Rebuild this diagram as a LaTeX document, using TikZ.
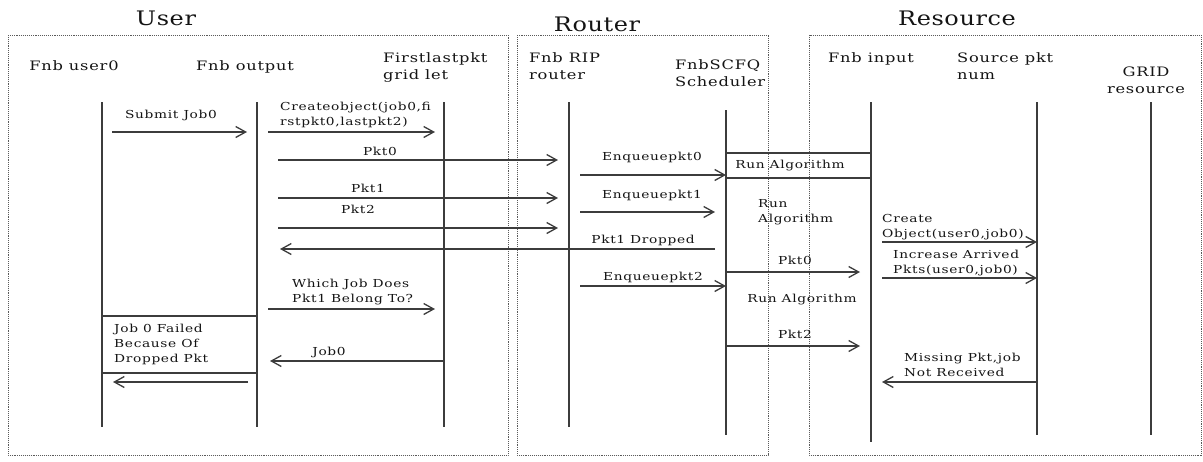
\documentclass[tikz,border=0pt]{standalone}
\usepackage{fontspec}
\setmainfont{DejaVu Serif}[FakeStretch=1.25, LetterSpace=6]
\newfontfamily\ttlfont{DejaVu Serif}[FakeStretch=1.2, LetterSpace=3]
\usetikzlibrary{arrows.meta, positioning}
\definecolor{lineclr}{HTML}{3C3C3C}
\definecolor{txtclr}{HTML}{141414}
\definecolor{boxclr}{HTML}{5A5A5A}
\tikzset{
  grouptitle/.style={
    font=\ttlfont\fontsize{20}{24}\selectfont,
    text=txtclr,
    inner sep=0pt
  },
  headlbl/.style={
    font=\fontsize{13}{17}\selectfont,
    text=txtclr,
    align=left,
    inner sep=0pt
  },
  msglbl/.style={
    font=\fontsize{11}{15}\selectfont,
    text=txtclr,
    align=left,
    inner sep=0pt
  },
  groupbox/.style={
    draw=boxclr,
    densely dotted,
    line width=0.9pt
  },
  lifeline/.style={
    draw=lineclr,
    line width=1.8pt
  },
  actbox/.style={
    draw=lineclr,
    line width=1.3pt
  },
  msg/.style={
    draw=lineclr,
    line width=1.3pt,
    -{Straight Barb[length=10pt, width=11pt]}
  }
}

\begin{document}
\begin{tikzpicture}[x=1pt, y=-1pt]

  \useasboundingbox (0,0) rectangle (1203,461);

  % ==================== GROUPS ====================
  \draw [groupbox] (8,35) rectangle (508,455);
  \draw [groupbox] (517,35) rectangle (768,455);
  \draw [groupbox] (809,35) rectangle (1201,455);

  \node (tuser) [grouptitle, anchor=base] at (166,25) {User};
  \node (trouter) [grouptitle, anchor=base] at (597,31) {Router};
  \node (tres) [grouptitle, anchor=base] at (957,25) {Resource};

  % ==================== HEADERS ====================
  % (base of a two-line node = its last line)
  \node (huser0) [headlbl, anchor=base] at (74,70) {Fnb user0};
  \node (houtput) [headlbl, anchor=base] at (245,70) {Fnb output};
  \node (hflpkt) [headlbl, anchor=base west] at (383,79) {Firstlastpkt\\grid let};
  \node (hrip) [headlbl, anchor=base west] at (529,79) {Fnb RIP\\router};
  \node (hscfq) [headlbl, anchor=base west] at (675,86) {FnbSCFQ\\Scheduler};
  \node (hinput) [headlbl, anchor=base west] at (828,62) {Fnb input};
  \node (hsrc) [headlbl, anchor=base west] at (957,79) {Source pkt\\num};
  \node (hgrid) [headlbl, anchor=base, align=center] at (1146,93) {GRID\\resource};

  % ==================== LIFELINES ====================
  \coordinate (user0) at (102,102);  \coordinate (user0-end) at (102,427);
  \coordinate (output) at (257,102); \coordinate (output-end) at (257,427);
  \coordinate (flpkt) at (444,102);  \coordinate (flpkt-end) at (444,427);
  \coordinate (rip) at (569,102);    \coordinate (rip-end) at (569,427);
  \coordinate (scfq) at (726,110);   \coordinate (scfq-end) at (726,435);
  \coordinate (input) at (871,102);  \coordinate (input-end) at (871,442);
  \coordinate (srcpkt) at (1037,102); \coordinate (srcpkt-end) at (1037,435);
  \coordinate (grid) at (1151,102);  \coordinate (grid-end) at (1151,435);

  \draw [lifeline] (user0) -- (user0-end);
  \draw [lifeline] (output) -- (output-end);
  \draw [lifeline] (flpkt) -- (flpkt-end);
  \draw [lifeline] (rip) -- (rip-end);
  \draw [lifeline] (scfq) -- (scfq-end);
  \draw [lifeline] (input) -- (input-end);
  \draw [lifeline] (srcpkt) -- (srcpkt-end);
  \draw [lifeline] (grid) -- (grid-end);

  % ==================== ACTIVITY BOXES ====================
  \draw [actbox] (scfq |- 0,153) rectangle (input |- 0,178);
  \node (run1) [msglbl, anchor=base] at (790,168) {Run Algorithm};
  \node (run2) [msglbl, anchor=base west] at (758,222) {Run\\Algorithm};
  \node (run3) [msglbl, anchor=base] at (802,302) {Run Algorithm};

  \draw [actbox] (user0 |- 0,316) rectangle (output |- 0,373);
  \node (failed) [msglbl, anchor=base west] at (114,362) {Job 0 Failed\\Because Of\\Dropped Pkt};

  % ==================== MESSAGES ====================
  \draw [msg, shorten <=10pt, shorten >=10pt] (user0 |- 0,132) -- (output |- 0,132);
  \node (lsubmit) [msglbl, anchor=base] at (171,118) {Submit Job0};

  \draw [msg, shorten <=11pt, shorten >=9pt] (output |- 0,132) -- (flpkt |- 0,132);
  \node (lcreate) [msglbl, anchor=base west] at (280,125) {Createobject(job0,fi\\rstpkt0,lastpkt2)};

  \draw [msg, shorten <=21pt, shorten >=11pt] (output |- 0,160) -- (rip |- 0,160);
  \node (lpkt0) [msglbl, anchor=base] at (380,155) {Pkt0};
  \draw [msg, shorten <=21pt, shorten >=11pt] (output |- 0,198) -- (rip |- 0,198);
  \node (lpkt1) [msglbl, anchor=base] at (368,192) {Pkt1};
  \draw [msg, shorten <=21pt, shorten >=11pt] (output |- 0,228) -- (rip |- 0,228);
  \node (lpkt2) [msglbl, anchor=base] at (358,213) {Pkt2};

  \draw [msg, shorten <=11pt] (rip |- 0,175) -- (scfq |- 0,175);
  \node (lenq0) [msglbl, anchor=base] at (652,160) {Enqueuepkt0};
  \draw [msg, shorten <=11pt, shorten >=11pt] (rip |- 0,212) -- (scfq |- 0,212);
  \node (lenq1) [msglbl, anchor=base] at (652,198) {Enqueuepkt1};

  \draw [msg, shorten <=11pt, shorten >=23pt] (scfq |- 0,249) -- (output |- 0,249);
  \node (ldrop) [msglbl, anchor=base] at (643,243) {Pkt1 Dropped};

  \draw [msg, shorten <=11pt] (input |- 0,242) -- (srcpkt |- 0,242);
  \node (lcobj) [msglbl, anchor=base west] at (882,237) {Create\\Object(user0,job0)};
  \draw [msg, shorten <=11pt] (input |- 0,278) -- (srcpkt |- 0,278);
  \node (linc) [msglbl, anchor=base west] at (893,273) {Increase Arrived\\Pkts(user0,job0)};

  \draw [msg, shorten >=11pt] (scfq |- 0,272) -- (input |- 0,272);
  \node (lfwd0) [msglbl, anchor=base] at (795,264) {Pkt0};

  \draw [msg, shorten <=11pt, shorten >=9pt] (output |- 0,309) -- (flpkt |- 0,309);
  \node (lwhich) [msglbl, anchor=base west] at (292,302) {Which Job Does\\Pkt1 Belong To?};

  \draw [msg, shorten <=11pt] (rip |- 0,286) -- (scfq |- 0,286);
  \node (lenq2) [msglbl, anchor=base] at (653,280) {Enqueuepkt2};

  \draw [msg, shorten >=11pt] (scfq |- 0,346) -- (input |- 0,346);
  \node (lfwd2) [msglbl, anchor=base] at (795,338) {Pkt2};

  \draw [msg, shorten >=13pt] (flpkt |- 0,361) -- (output |- 0,361);
  \node (ljob0) [msglbl, anchor=base] at (329,355) {Job0};

  \draw [msg, shorten <=9pt, shorten >=11pt] (output |- 0,382) -- (user0 |- 0,382);

  \draw [msg, shorten >=11pt] (srcpkt |- 0,382) -- (input |- 0,382);
  \node (lmiss) [msglbl, anchor=base west] at (904,376) {Missing Pkt,job\\Not Received};

\end{tikzpicture}
\end{document}
